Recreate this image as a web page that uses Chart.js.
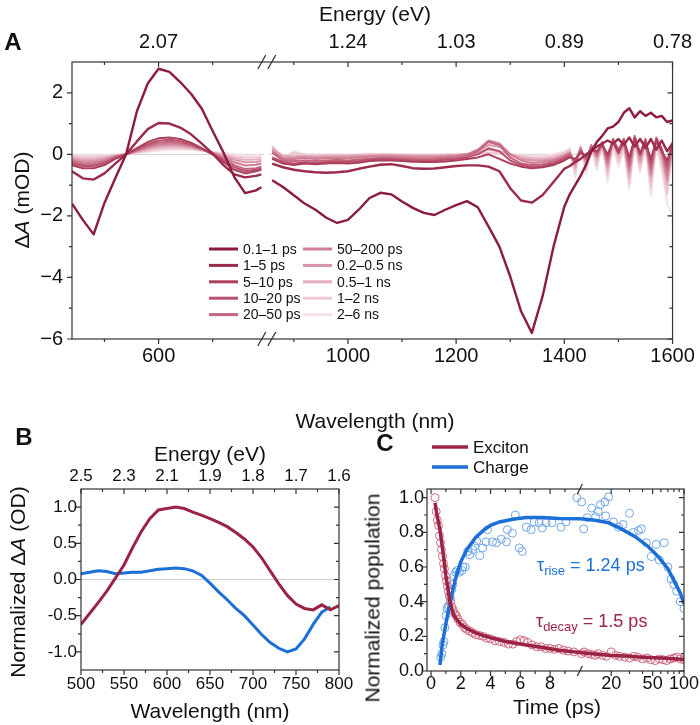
<!DOCTYPE html>
<html>
<head>
<meta charset="utf-8">
<script src="https://cdn.jsdelivr.net/npm/chart.js@4.4.1/dist/chart.umd.min.js"></script>
<style>
body { margin: 0; background: #fff; }
#wrap { position: relative; width: 700px; height: 725px; overflow: hidden; font-family: "Liberation Sans", Arial, sans-serif; color: #111; }
canvas { position: absolute; }
.t { position: absolute; white-space: nowrap; font-size: 21px; line-height: 1; transform: translate(-50%, -50%); }
.r { transform: translate(-50%, -50%) rotate(-90deg); }
.p { font-weight: bold; font-size: 24px; }
.tau { position: absolute; white-space: nowrap; font-size: 18px; line-height: 1; transform: translate(0, -50%); }
.tau sub { font-size: 13px; vertical-align: -4px; }
</style>
</head>
<body>
<div id="wrap">
  <canvas id="cA" width="700" height="400" style="left:0;top:0;width:700px;height:400px"></canvas>
  <canvas id="cB" width="360" height="295" style="left:0;top:430px;width:360px;height:295px"></canvas>
  <canvas id="cC" width="341" height="295" style="left:360px;top:430px;width:341px;height:295px"></canvas>

  <div class="t p" style="left:13px;top:42px">A</div>
  <div class="t" style="left:375px;top:13px">Energy (eV)</div>
  <div class="t r" style="left:21px;top:200px">Δ<i>A</i> (mOD)</div>
  <div class="t" style="left:375px;top:420px">Wavelength (nm)</div>

  <div class="t p" style="left:24px;top:437px">B</div>
  <div class="t" style="left:210px;top:453px">Energy (eV)</div>
  <div class="t r" style="left:17px;top:582px">Normalized Δ<i>A</i> (OD)</div>
  <div class="t" style="left:210px;top:710px">Wavelength (nm)</div>

  <div class="t p" style="left:385px;top:443px">C</div>
  <div class="t r" style="left:372px;top:598px">Normalized population</div>
  <div class="t" style="left:557px;top:706px">Time (ps)</div>
  <div class="tau" style="left:537px;top:566px;color:#1c6fd6">τ<sub>rise</sub> = 1.24 ps</div>
  <div class="tau" style="left:536px;top:622px;color:#9b2344">τ<sub>decay</sub> = 1.5 ps</div>
</div>

<script>
// ---------- panel A: transient spectra ----------
const delayLabels = ['0.1–1 ps', '1–5 ps', '5–10 ps', '10–20 ps', '20–50 ps',
  '50–200 ps', '0.2–0.5 ns', '0.5–1 ns', '1–2 ns', '2–6 ns'];

const wlLeft = [440, 460, 480, 500, 520, 540, 560, 580, 600, 620, 640, 660, 680, 700, 720, 740, 760, 780, 790];
const wlRight = [860, 880, 900, 920, 940, 960, 980, 1000, 1020, 1040, 1060, 1080, 1100, 1120, 1140, 1160,
  1180, 1200, 1220, 1240, 1260, 1280, 1300, 1320, 1340, 1360, 1380, 1400, 1410, 1420, 1430, 1440,
  1450, 1460, 1470, 1480, 1490, 1500, 1510, 1520, 1530, 1540, 1550, 1560, 1570, 1580, 1590, 1600];

const spec1L = [-1.6, -2.13, -2.6, -1.58, -0.78, 0.0, 1.4, 2.3, 2.78, 2.68, 2.35, 1.97, 1.48, 0.76, 0.06, -0.74, -1.26, -1.17, -1.07];
const spec2L = [-0.55, -0.78, -0.82, -0.62, -0.3, 0.0, 0.42, 0.82, 1.02, 1.0, 0.87, 0.65, 0.35, 0.02, -0.35, -0.65, -0.75, -0.7, -0.65];
const spec3L = [-0.35, -0.45, -0.45, -0.35, -0.15, 0.0, 0.2, 0.4, 0.52, 0.55, 0.5, 0.38, 0.2, 0.0, -0.25, -0.5, -0.62, -0.55, -0.5];
const spec4L = [-0.3, -0.38, -0.38, -0.3, -0.12, 0.0, 0.17, 0.33, 0.44, 0.47, 0.43, 0.33, 0.18, 0.0, -0.2, -0.42, -0.55, -0.5, -0.45];
const spec5L = [-0.25, -0.32, -0.32, -0.25, -0.1, 0.0, 0.14, 0.28, 0.38, 0.41, 0.38, 0.3, 0.17, 0.02, -0.15, -0.35, -0.48, -0.45, -0.4];
const spec6L = [-0.2, -0.26, -0.26, -0.2, -0.08, 0.0, 0.12, 0.24, 0.32, 0.35, 0.33, 0.27, 0.16, 0.04, -0.1, -0.26, -0.36, -0.34, -0.3];
const spec7L = [-0.15, -0.2, -0.2, -0.15, -0.06, 0.0, 0.1, 0.2, 0.27, 0.3, 0.29, 0.24, 0.15, 0.05, -0.06, -0.18, -0.26, -0.25, -0.22];
const spec8L = [-0.1, -0.14, -0.14, -0.1, -0.04, 0.0, 0.08, 0.16, 0.22, 0.25, 0.25, 0.21, 0.14, 0.06, -0.03, -0.12, -0.18, -0.17, -0.15];
const spec9L = [-0.05, -0.08, -0.08, -0.06, -0.02, 0.0, 0.06, 0.12, 0.17, 0.2, 0.2, 0.18, 0.13, 0.07, 0.0, -0.06, -0.1, -0.1, -0.08];
const spec10L = [0.0, -0.03, -0.04, -0.03, -0.01, 0.0, 0.04, 0.08, 0.12, 0.15, 0.16, 0.15, 0.12, 0.08, 0.04, 0.0, -0.03, -0.03, -0.02];

const spec1R = [-0.84, -1.06, -1.33, -1.6, -1.8, -2.06, -2.23, -2.13, -1.8, -1.42, -1.25, -1.3, -1.53, -1.74, -1.9, -1.97,
  -1.8, -1.65, -1.52, -1.72, -2.35, -3.0, -3.97, -5.1, -5.8, -4.6, -3.0, -1.7, -1.3, -1.0, -0.7, -0.35,
  0.1, 0.4, 0.6, 0.84, 0.9, 1.05, 1.35, 1.5, 1.2, 1.4, 1.25, 1.35, 1.2, 1.25, 1.05, 1.1];
const spec2R = [-0.3, -0.42, -0.5, -0.55, -0.58, -0.6, -0.58, -0.55, -0.47, -0.4, -0.34, -0.32, -0.38, -0.45, -0.47, -0.46,
  -0.42, -0.38, -0.36, -0.36, -0.4, -0.55, -1.1, -1.5, -1.57, -1.32, -0.9, -0.47, -0.38, -0.25, -0.15, 0.0,
  0.1, 0.25, 0.35, 0.45, 0.35, 0.5, 0.3, 0.55, 0.25, 0.5, 0.2, 0.5, 0.15, 0.45, 0.1, 0.35];
const spec3R = [-0.15, -0.3, -0.35, -0.3, -0.32, -0.3, -0.28, -0.3, -0.27, -0.22, -0.2, -0.2, -0.22, -0.24, -0.25, -0.25,
  -0.23, -0.2, -0.15, -0.1, 0.0, -0.15, -0.3, -0.4, -0.45, -0.42, -0.35, -0.2, -0.1, -0.15, 0.05, -0.05,
  0.15, 0.1, 0.3, 0.0, 0.4, 0.05, 0.45, -0.1, 0.5, 0.0, 0.4, -0.15, 0.45, 0.1, -0.2, 0.3];
const spec4R = [-0.1, -0.25, -0.3, -0.26, -0.28, -0.25, -0.24, -0.25, -0.22, -0.18, -0.16, -0.16, -0.18, -0.2, -0.21, -0.2,
  -0.18, -0.15, -0.1, 0.0, 0.2, 0.1, -0.2, -0.35, -0.4, -0.38, -0.3, -0.15, -0.05, -0.2, 0.1, -0.1,
  0.2, 0.05, 0.35, -0.1, 0.45, 0.1, 0.5, -0.2, 0.55, 0.05, 0.45, -0.3, 0.5, 0.15, -0.35, 0.35];
const spec5R = [0.05, -0.2, -0.22, -0.2, -0.22, -0.2, -0.18, -0.2, -0.17, -0.14, -0.12, -0.12, -0.14, -0.15, -0.16, -0.15,
  -0.13, -0.1, -0.05, 0.1, 0.4, 0.3, -0.1, -0.3, -0.35, -0.32, -0.25, -0.1, 0.0, -0.25, 0.15, -0.15,
  0.25, 0.0, 0.4, -0.2, 0.5, 0.15, 0.45, -0.35, 0.6, 0.0, 0.5, -0.45, 0.55, 0.2, -0.5, 0.4];
const spec6R = [0.1, -0.15, -0.15, -0.12, -0.15, -0.13, -0.12, -0.13, -0.1, -0.08, -0.07, -0.07, -0.09, -0.1, -0.1, -0.1,
  -0.08, -0.05, 0.0, 0.15, 0.45, 0.35, 0.0, -0.2, -0.28, -0.25, -0.2, -0.05, 0.05, -0.3, 0.2, -0.2,
  0.3, -0.05, 0.35, -0.3, 0.5, 0.1, 0.4, -0.5, 0.55, -0.1, 0.45, -0.6, 0.5, 0.1, -0.7, 0.35];
const spec7R = [0.15, -0.1, -0.1, -0.08, -0.1, -0.09, -0.08, -0.08, -0.06, -0.05, -0.04, -0.04, -0.05, -0.06, -0.06, -0.06,
  -0.05, -0.03, 0.0, 0.1, 0.3, 0.25, 0.0, -0.15, -0.2, -0.2, -0.15, -0.05, 0.05, -0.35, 0.2, -0.25,
  0.3, -0.1, 0.3, -0.4, 0.45, 0.0, 0.35, -0.6, 0.5, -0.2, 0.4, -0.7, 0.45, 0.0, -0.85, 0.3];
const spec8R = [0.2, -0.05, -0.06, -0.05, -0.06, -0.05, -0.05, -0.05, -0.04, -0.03, -0.02, -0.02, -0.03, -0.04, -0.04, -0.04,
  -0.03, -0.02, 0.0, 0.05, 0.15, 0.1, 0.0, -0.1, -0.15, -0.15, -0.1, 0.0, 0.1, -0.45, 0.2, -0.35,
  0.25, -0.2, 0.3, -0.5, 0.4, -0.1, 0.3, -0.75, 0.45, -0.3, 0.35, -0.85, 0.4, -0.1, -1.0, 0.25];
const spec9R = [0.25, -0.1, 0.05, -0.02, -0.03, -0.02, -0.02, -0.02, -0.01, 0.0, 0.0, 0.0, -0.01, -0.02, -0.02, -0.02,
  -0.01, 0.0, 0.0, 0.02, 0.05, 0.05, 0.0, -0.05, -0.1, -0.1, -0.05, 0.05, 0.15, -0.6, 0.25, -0.5,
  0.2, -0.35, 0.3, -0.7, 0.35, -0.25, 0.25, -0.95, 0.4, -0.45, 0.3, -1.1, 0.35, -0.3, -1.3, 0.2];
const spec10R = [0.3, -0.15, 0.1, 0.0, 0.0, 0.0, 0.0, 0.0, 0.0, 0.02, 0.02, 0.02, 0.0, 0.0, 0.0, 0.0,
  0.0, 0.02, 0.02, 0.02, 0.03, 0.03, 0.0, -0.03, -0.05, -0.05, 0.0, 0.1, 0.2, -0.75, 0.3, -0.65,
  0.2, -0.5, 0.25, -0.9, 0.3, -0.4, 0.2, -1.15, 0.35, -0.6, 0.25, -1.35, 0.3, -0.5, -1.6, -2.0];

const wlTicks = [600, 1000, 1200, 1400, 1600];
const wlMinor = [500, 700, 900, 1100, 1300, 1500];
const energyLabelsA = ['2.07', '1.24', '1.03', '0.89', '0.78'];
const dATicks = [-6, -4, -2, 0, 2];
const dAMinor = [-5, -3, -1, 1];

// ---------- panel B: normalized spectra ----------
const bWl = [500, 510, 520, 530, 540, 550, 560, 570, 580, 590, 600, 610, 620, 630, 640, 650,
  660, 670, 680, 690, 700, 710, 720, 730, 740, 750, 760, 770, 780, 790, 800];
const bExciton = [-0.62, -0.47, -0.32, -0.16, 0.02, 0.2, 0.44, 0.66, 0.84, 0.96, 0.98, 1.0, 0.98, 0.93, 0.89, 0.84,
  0.79, 0.73, 0.65, 0.56, 0.45, 0.3, 0.12, -0.06, -0.22, -0.34, -0.4, -0.42, -0.35, -0.42, -0.36];
const bCharge = [0.08, 0.1, 0.12, 0.11, 0.08, 0.09, 0.1, 0.1, 0.12, 0.14, 0.15, 0.16, 0.15, 0.12, 0.06, -0.05,
  -0.17, -0.28, -0.4, -0.5, -0.63, -0.76, -0.87, -0.95, -1.0, -0.96, -0.82, -0.62, -0.45, -0.38];
const bWlTicks = [500, 550, 600, 650, 700, 750, 800];
const bWlMinor = [525, 575, 625, 675, 725, 775];
const energyLabelsB = ['2.5', '2.3', '2.1', '1.9', '1.8', '1.7', '1.6'];
const bYTicks = [-1, -0.5, 0, 0.5, 1];
const bYMinor = [-0.75, -0.25, 0.25, 0.75];

// ---------- panel C: kinetics ----------
const excFitT = [0.27, 0.4, 0.6, 0.8, 1.0, 1.27, 1.5, 1.7, 2.0, 2.4, 3.0, 3.5, 4.1, 5.0, 6.4, 7.5, 8.6, 10,
  14, 20, 27.5, 40, 60, 80, 100];
const excFitV = [0.97, 0.9, 0.815, 0.69, 0.55, 0.4, 0.33, 0.3, 0.27, 0.245, 0.22, 0.205, 0.19, 0.17, 0.15, 0.135, 0.12, 0.107,
  0.098, 0.09, 0.086, 0.08, 0.075, 0.07, 0.066];
const chgFitT = [0.6, 0.75, 0.93, 1.1, 1.27, 1.5, 1.7, 2.0, 2.4, 3.0, 3.5, 4.0, 4.6, 5.5, 6.4, 7.5, 8.6, 10,
  11.4, 14, 18.9, 25, 34, 45, 56.6, 70, 82, 92, 100];
const chgFitV = [0.035, 0.15, 0.24, 0.32, 0.39, 0.48, 0.55, 0.63, 0.7, 0.77, 0.81, 0.84, 0.86, 0.875, 0.885, 0.885, 0.88, 0.878,
  0.875, 0.87, 0.855, 0.82, 0.775, 0.72, 0.66, 0.59, 0.51, 0.45, 0.39];
const excT = [0.27, 0.35, 0.42, 0.5, 0.57, 0.64, 0.7, 0.77, 0.84, 0.9, 0.97, 1.04, 1.1, 1.17, 1.24, 1.32, 1.4, 1.5, 1.6, 1.7,
  1.8, 1.95, 2.1, 2.25, 2.4, 2.6, 2.8, 3.0, 3.25, 3.5, 3.75, 4.0, 4.3, 4.6, 4.9, 5.2, 5.5, 5.75, 6.0, 6.25,
  6.5, 6.8, 7.1, 7.4, 7.7, 8.0, 8.3, 8.6, 8.9, 9.2, 9.6, 10.4, 11, 12, 13, 14, 15, 16.5, 18, 20,
  22, 24, 27, 30, 33, 36, 40, 44, 48, 53, 58, 63, 68, 74, 80, 86, 92, 100];
const excV = [1.0, 0.92, 0.87, 0.84, 0.78, 0.74, 0.7, 0.66, 0.62, 0.59, 0.55, 0.52, 0.49, 0.46, 0.43, 0.4, 0.37, 0.35, 0.33, 0.32,
  0.3, 0.28, 0.27, 0.25, 0.24, 0.23, 0.22, 0.21, 0.205, 0.2, 0.19, 0.185, 0.175, 0.17, 0.165, 0.155, 0.155, 0.17, 0.18, 0.175,
  0.165, 0.15, 0.14, 0.14, 0.13, 0.13, 0.125, 0.13, 0.12, 0.115, 0.11, 0.1, 0.11, 0.1, 0.095, 0.09, 0.1, 0.09, 0.085, 0.11,
  0.09, 0.085, 0.08, 0.075, 0.085, 0.08, 0.07, 0.075, 0.065, 0.06, 0.07, 0.065, 0.06, 0.07, 0.075, 0.08, 0.07, 0.065];
const chgT = [0.65, 0.73, 0.8, 0.87, 0.93, 1.0, 1.07, 1.13, 1.2, 1.3, 1.4, 1.47, 1.55, 1.65, 1.75, 1.9, 2.07, 2.13, 2.3, 2.47,
  2.6, 2.8, 2.93, 3.07, 3.27, 3.47, 3.7, 3.8, 4.13, 4.4, 4.73, 5.07, 5.13, 5.47, 5.67, 5.93, 6.13, 6.4, 6.73, 6.93,
  7.27, 7.47, 7.73, 8.13, 8.73, 9.07, 9.8, 10.4, 10.9, 11.8, 13, 14.2, 15, 15.8, 17.4, 17.7, 18.9, 21, 23.5, 26,
  30, 32.7, 36.5, 39, 43.5, 48.6, 54, 58, 64.5, 70, 75, 80, 85, 92, 100];
const chgV = [0.08, 0.1, 0.15, 0.17, 0.25, 0.32, 0.36, 0.37, 0.38, 0.42, 0.47, 0.5, 0.55, 0.57, 0.58, 0.57, 0.58, 0.6, 0.6, 0.69,
  0.67, 0.7, 0.72, 0.75, 0.665, 0.71, 0.745, 0.815, 0.745, 0.74, 0.76, 0.745, 0.815, 0.795, 0.9, 0.71, 0.69, 0.83, 0.815, 0.86,
  0.855, 0.825, 0.855, 0.855, 0.83, 0.86, 1.0, 0.975, 0.82, 0.885, 0.94, 0.89, 0.92, 0.96, 0.975, 0.895, 1.005, 0.86, 0.83, 0.845,
  0.91, 0.8, 0.81, 0.82, 0.74, 0.66, 0.73, 0.64, 0.74, 0.6, 0.53, 0.5, 0.46, 0.4, 0.36];
const tTicks = [0, 2, 4, 6, 8, 20, 50, 100];
const tMinor = [1, 3, 5, 7, 9, 30, 40, 60, 70, 80, 90];
const popTicks = [0, 0.2, 0.4, 0.6, 0.8, 1.0];
const popMinor = [0.1, 0.3, 0.5, 0.7, 0.9];

// ---------- styles ----------
const wine = '#9b2344';
const blue = '#1c6fd6';
const delayColors = ['#8c1c3c', '#9c2a4b', '#ab3f5c', '#b9526d', '#c4667f',
  '#cf7e94', '#da95a8', '#e4afbe', '#edc8d2', '#f5e0e6'];
const FONT = '"Liberation Sans", Arial, sans-serif';
Chart.defaults.font.family = FONT;
Chart.defaults.color = '#111';

// broken axes: the 800-850 nm gap is cut out of panel A,
// panel C is linear up to 10 ps and logarithmic after it
const warpA = w => (w <= 800 ? w : w - 50);
const warpC = t => (t <= 10 ? t : 10 + 7 * Math.log10(t / 10));
const ident = v => v;

// frame, mirrored ticks, break marks and zero line
const framePlugin = {
  id: 'frame',
  beforeDatasetsDraw(chart, args, o) {
    if (!o.zero) return;
    const { ctx } = chart, xs = chart.scales.x, y = chart.scales.y.getPixelForValue(0);
    ctx.save();
    ctx.strokeStyle = '#cfcfcf';
    ctx.lineWidth = 1;
    ctx.beginPath();
    o.zero.forEach(([x0, x1]) => {
      ctx.moveTo(xs.getPixelForValue(x0), y);
      ctx.lineTo(xs.getPixelForValue(x1), y);
    });
    ctx.stroke();
    ctx.restore();
  },
  afterDatasetsDraw(chart, args, o) {
    const { ctx, chartArea: a } = chart;
    const xs = chart.scales.x, ys = chart.scales.y;
    ctx.save();
    ctx.strokeStyle = '#333';
    ctx.lineWidth = 1.2;
    ctx.strokeRect(a.left, a.top, a.right - a.left, a.bottom - a.top);
    ctx.beginPath();
    const xt = o.xMaj.map(v => [v, 5]).concat(o.xMin.map(v => [v, 3]));
    const yt = o.yMaj.map(v => [v, 5]).concat(o.yMin.map(v => [v, 3]));
    xt.forEach(([v, L]) => {
      const p = xs.getPixelForValue(v);
      ctx.moveTo(p, a.bottom); ctx.lineTo(p, a.bottom + L);
      ctx.moveTo(p, a.top); ctx.lineTo(p, a.top + L);
    });
    yt.forEach(([v, L]) => {
      const p = ys.getPixelForValue(v);
      ctx.moveTo(a.left, p); ctx.lineTo(a.left - L, p);
      ctx.moveTo(a.right, p); ctx.lineTo(a.right - L, p);
    });
    ctx.stroke();
    if (o.brk !== undefined) {
      const p = xs.getPixelForValue(o.brk);
      const offs = o.double ? [-5, 5] : [0];
      const h = o.double ? 7 : 5, w = o.double ? 4 : 2.5;
      ctx.lineWidth = 1.3;
      ctx.beginPath();
      [a.top, a.bottom].forEach(y => {
        offs.forEach(d => {
          ctx.moveTo(p + d - w, y + h);
          ctx.lineTo(p + d + w, y - h);
        });
      });
      ctx.stroke();
    }
    ctx.restore();
  }
};

function legendPlugin(spots, font, len, lw) {
  return {
    id: 'lg',
    afterDraw(chart) {
      const ctx = chart.ctx;
      ctx.save();
      ctx.font = font;
      ctx.textBaseline = 'middle';
      spots.forEach(([i, x, y]) => {
        const ds = chart.data.datasets[i];
        ctx.strokeStyle = ds.borderColor;
        ctx.lineWidth = lw;
        ctx.beginPath();
        ctx.moveTo(x, y);
        ctx.lineTo(x + len, y);
        ctx.stroke();
        ctx.fillStyle = '#111';
        ctx.fillText(ds.label, x + len + 5, y + 1);
      });
      ctx.restore();
    }
  };
}

const pts = (xs, ys, f = ident) => ys.map((y, i) => ({ x: f(xs[i]), y }));
const fixTicks = vals => s => { s.ticks = vals.map(v => ({ value: v })); };
const minus = v => (v < 0 ? '−' + (-v) : String(v));
const noGrid = { display: false, drawTicks: false };
const base = { responsive: false, animation: false, events: [] };

// ---------- chart A ----------
const specL = [spec1L, spec2L, spec3L, spec4L, spec5L, spec6L, spec7L, spec8L, spec9L, spec10L];
const specR = [spec1R, spec2R, spec3R, spec4R, spec5R, spec6R, spec7R, spec8R, spec9R, spec10R];
const wlTicksW = wlTicks.map(warpA);

new Chart(document.getElementById('cA'), {
  type: 'line',
  data: {
    datasets: delayLabels.map((lab, k) => ({
      label: lab,
      data: pts(wlLeft, specL[k], warpA).concat([{ x: 800, y: null }], pts(wlRight, specR[k], warpA)),
      borderColor: delayColors[k],
      borderWidth: k < 2 ? 2.4 : 2,
      pointRadius: 0,
      borderJoinStyle: 'round'
    }))
  },
  options: {
    ...base,
    layout: { padding: { left: 0, right: 23, top: 0, bottom: 0 } },
    plugins: {
      legend: { display: false }, tooltip: { enabled: false },
      frame: { xMaj: wlTicksW, xMin: wlMinor.map(warpA), yMaj: dATicks, yMin: dAMinor,
        brk: 800, double: true, zero: [[440, 795], [805, 1550]] }
    },
    scales: {
      x: { type: 'linear', position: 'bottom', min: 440, max: 1550, grid: noGrid, border: { display: false },
        afterBuildTicks: fixTicks(wlTicksW), afterFit: s => { s.height = 61; },
        ticks: { autoSkip: false, maxRotation: 0, padding: 5, font: { size: 20 }, callback: (v, i) => String(wlTicks[i]) } },
      x2: { type: 'linear', axis: 'x', position: 'top', min: 440, max: 1550, grid: noGrid, border: { display: false },
        afterBuildTicks: fixTicks(wlTicksW), afterFit: s => { s.height = 62; },
        ticks: { autoSkip: false, maxRotation: 0, padding: 8, font: { size: 20 }, callback: (v, i) => energyLabelsA[i] } },
      y: { type: 'linear', min: -6, max: 3, grid: noGrid, border: { display: false },
        afterBuildTicks: fixTicks(dATicks), afterFit: s => { s.width = 72; },
        ticks: { padding: 9, font: { size: 20 }, callback: v => minus(v) } }
    }
  },
  plugins: [framePlugin, legendPlugin(delayLabels.map((l, i) =>
    [i, i < 5 ? 209 : 303, 249 + (i % 5) * 16.4]), '14px ' + FONT, 29, 3)]
});

// ---------- chart B ----------
new Chart(document.getElementById('cB'), {
  type: 'line',
  data: {
    datasets: [
      { label: 'Exciton', data: pts(bWl, bExciton), borderColor: wine, borderWidth: 3, pointRadius: 0 },
      { label: 'Charge', data: pts(bWl, bCharge), borderColor: blue, borderWidth: 3, pointRadius: 0 }
    ]
  },
  options: {
    ...base,
    layout: { padding: { left: 0, right: 21, top: 0, bottom: 0 } },
    plugins: {
      legend: { display: false }, tooltip: { enabled: false },
      frame: { xMaj: bWlTicks, xMin: bWlMinor, yMaj: bYTicks, yMin: bYMinor, zero: [[500, 800]] }
    },
    scales: {
      x: { type: 'linear', position: 'bottom', min: 500, max: 800, grid: noGrid, border: { display: false },
        afterBuildTicks: fixTicks(bWlTicks), afterFit: s => { s.height = 55; },
        ticks: { autoSkip: false, maxRotation: 0, padding: 4, font: { size: 17 }, callback: v => String(v) } },
      x2: { type: 'linear', axis: 'x', position: 'top', min: 500, max: 800, grid: noGrid, border: { display: false },
        afterBuildTicks: fixTicks(bWlTicks), afterFit: s => { s.height = 59; },
        ticks: { autoSkip: false, maxRotation: 0, padding: 2, font: { size: 17 }, callback: (v, i) => energyLabelsB[i] } },
      y: { type: 'linear', min: -1.25, max: 1.25, grid: noGrid, border: { display: false },
        afterBuildTicks: fixTicks(bYTicks), afterFit: s => { s.width = 81; },
        ticks: { padding: 4, font: { size: 17 }, callback: v => v.toFixed(1) } }
    }
  },
  plugins: [framePlugin]
});

// ---------- chart C ----------
const tTicksW = tTicks.map(warpC);

new Chart(document.getElementById('cC'), {
  type: 'line',
  data: {
    datasets: [
      { label: 'Exciton', data: pts(excFitT, excFitV, warpC), borderColor: wine, borderWidth: 3.5, pointRadius: 0, order: 0 },
      { label: 'Charge', data: pts(chgFitT, chgFitV, warpC), borderColor: blue, borderWidth: 3.5, pointRadius: 0, order: 0 },
      { label: 'Exciton data', data: pts(excT, excV, warpC), showLine: false, pointRadius: 4, pointBorderWidth: 1,
        pointBorderColor: '#cf667f', pointBackgroundColor: 'rgba(0,0,0,0)', borderColor: '#cf667f', order: 1 },
      { label: 'Charge data', data: pts(chgT, chgV, warpC), showLine: false, pointRadius: 4, pointBorderWidth: 1,
        pointBorderColor: '#6fa6e8', pointBackgroundColor: 'rgba(0,0,0,0)', borderColor: '#6fa6e8', order: 1 }
    ]
  },
  options: {
    ...base,
    layout: { padding: { left: 0, right: 15, top: 59, bottom: 0 } },
    plugins: {
      legend: { display: false }, tooltip: { enabled: false },
      frame: { xMaj: tTicksW, xMin: tMinor.map(warpC), yMaj: popTicks, yMin: popMinor, brk: warpC(10), double: false }
    },
    scales: {
      x: { type: 'linear', position: 'bottom', min: -0.27, max: 17, grid: noGrid, border: { display: false },
        afterBuildTicks: fixTicks(tTicksW), afterFit: s => { s.height = 54; },
        ticks: { autoSkip: false, maxRotation: 0, padding: 2, font: { size: 18 }, callback: (v, i) => String(tTicks[i]) } },
      y: { type: 'linear', min: 0, max: 1.05, grid: noGrid, border: { display: false },
        afterBuildTicks: fixTicks(popTicks), afterFit: s => { s.width = 67; },
        ticks: { padding: 3, font: { size: 18 }, callback: v => v.toFixed(1) } }
    }
  },
  plugins: [framePlugin, legendPlugin([[0, 72, 17], [1, 72, 37]], '17px ' + FONT, 36, 3.5)]
});
</script>
</body>
</html>
